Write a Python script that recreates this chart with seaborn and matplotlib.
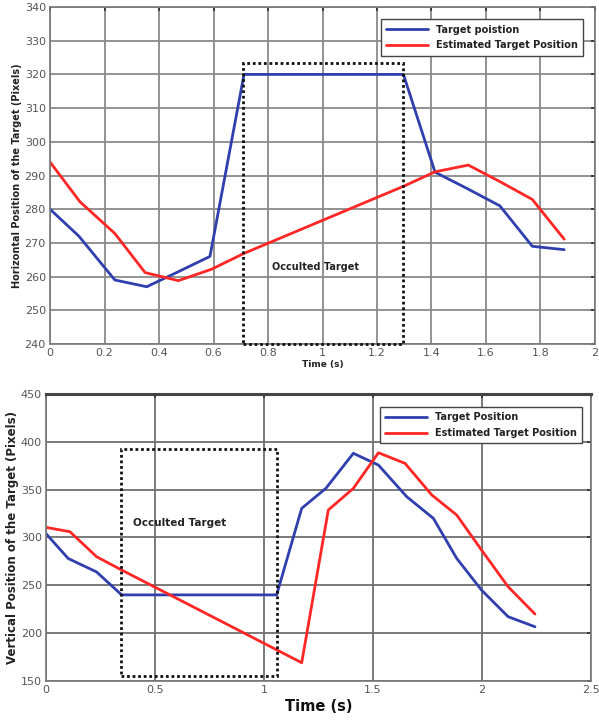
import matplotlib
matplotlib.use("Agg")
import matplotlib.pyplot as plt
import seaborn as sns
import pandas as pd
from matplotlib.patches import Rectangle

# ---------------- data: top panel (horizontal position) ----------------
h_time_true = [0.0, 0.106, 0.238, 0.355, 0.472, 0.587, 0.712, 1.297, 1.413, 1.534, 1.651, 1.770, 1.887]
h_true = [280, 272, 259, 257, 261.5, 266, 320, 320, 291, 286, 281, 269, 268]
h_time_est = [0.0, 0.110, 0.238, 0.349, 0.471, 0.593, 0.712, 1.300, 1.413, 1.535, 1.651, 1.770, 1.887]
h_est = [294, 282.2, 272.8, 261.2, 258.8, 262.2, 266.9, 286.9, 291.1, 293.1, 288.2, 282.9, 271.1]
h_labels = ["Target poistion", "Estimated Target Position"]
h_xticks = [0, 0.2, 0.4, 0.6, 0.8, 1, 1.2, 1.4, 1.6, 1.8, 2]
h_xticklabels = ["0", "0.2", "0.4", "0.6", "0.8", "1", "1.2", "1.4", "1.6", "1.8", "2"]
h_yticks = [240, 250, 260, 270, 280, 290, 300, 310, 320, 330, 340]
h_occ = (0.707, 1.297, 240, 323.5)

# ---------------- data: bottom panel (vertical position) ----------------
v_time_true = [0.0, 0.102, 0.232, 0.347, 1.058, 1.173, 1.284, 1.410, 1.525, 1.655, 1.777, 1.884, 1.998, 2.120, 2.243]
v_true = [304, 278, 264, 240, 240, 330.5, 351.4, 388, 375.7, 342.6, 320, 278.2, 245, 217.2, 206.7]
v_time_est = [0.0, 0.110, 0.232, 0.347, 1.173, 1.295, 1.410, 1.525, 1.647, 1.770, 1.884, 1.998, 2.120, 2.243]
v_est = [310.6, 306, 279.9, 266, 169.1, 328.7, 351.4, 388.6, 377.5, 344.4, 323.5, 286.9, 248.5, 220]
v_labels = ["Target Position", "Estimated Target Position"]
v_xticks = [0, 0.5, 1, 1.5, 2, 2.5]
v_xticklabels = ["0", "0.5", "1", "1.5", "2", "2.5"]
v_yticks = [150, 200, 250, 300, 350, 400, 450]
v_occ = (0.343, 1.061, 155, 392)

BLUE = "#2f3fae"
RED = "#ff2626"

sns.set_theme(style="whitegrid")
plt.rcParams["font.family"] = ["DejaVu Sans"]

fig = plt.figure(figsize=(5.99, 7.22), dpi=100)
ax1 = fig.add_axes([0.0835, 0.5235, 0.9098, 0.4668])
ax2 = fig.add_axes([0.0768, 0.0568, 0.9098, 0.3975])


def make_df(t1, y1, t2, y2, labels):
    return pd.concat([
        pd.DataFrame({"t": t1, "y": y1, "series": labels[0]}),
        pd.DataFrame({"t": t2, "y": y2, "series": labels[1]}),
    ], ignore_index=True)


def style_axes(ax, xticks, xticklabels, yticks, xlim, ylim, gridc, fs):
    ax.set_xlim(*xlim)
    ax.set_ylim(*ylim)
    ax.set_xticks(xticks)
    ax.set_xticklabels(xticklabels)
    ax.set_yticks(yticks)
    ax.grid(True, color=gridc, linewidth=1.3)
    ax.tick_params(direction="in", top=True, right=True, length=3,
                   color="#333333", labelsize=fs, labelcolor="#555555", pad=3)
    for s in ax.spines.values():
        s.set_color("#777777")
        s.set_linewidth(1.2)
        s.set_visible(True)


# ---------------- top panel ----------------
df1 = make_df(h_time_true, h_true, h_time_est, h_est, h_labels)
sns.lineplot(data=df1, x="t", y="y", hue="series", palette=[BLUE, RED],
             sort=False, estimator=None, linewidth=2.0, ax=ax1)
style_axes(ax1, h_xticks, h_xticklabels, h_yticks, (0, 2), (240, 340), "#8a8a8a", 8)
ax1.set_xlabel("Time (s)", fontsize=6.5, fontweight="bold", color="#222222", labelpad=1)
ax1.set_ylabel("Horizontal Position of the Target (Pixels)", fontsize=7,
               fontweight="bold", color="#222222", labelpad=2)
x0, x1, y0, y1 = h_occ
ax1.add_patch(Rectangle((x0, y0), x1 - x0, y1 - y0, fill=False, edgecolor="#111111",
                        linestyle=(0, (1, 1)), linewidth=2.0, zorder=3, clip_on=False))
ax1.text(0.815, 263, "Occulted Target", fontsize=7, fontweight="bold",
         color="#222222", va="center", ha="left")
leg1 = ax1.legend(loc="upper right", bbox_to_anchor=(0.987, 0.978), fontsize=7,
                  frameon=True, fancybox=False, edgecolor="#444444", framealpha=1,
                  handlelength=4.3, borderpad=0.55, labelspacing=0.6)
leg1.get_frame().set_linewidth(1.0)
for t in leg1.get_texts():
    t.set_fontweight("bold")
    t.set_color("#222222")

# ---------------- bottom panel ----------------
df2 = make_df(v_time_true, v_true, v_time_est, v_est, v_labels)
sns.lineplot(data=df2, x="t", y="y", hue="series", palette=[BLUE, RED],
             sort=False, estimator=None, linewidth=2.0, ax=ax2)
style_axes(ax2, v_xticks, v_xticklabels, v_yticks, (0, 2.5), (150, 450), "#707070", 8)
ax2.spines["top"].set_color("#444444")
ax2.spines["top"].set_linewidth(2.2)
ax2.set_xlabel("Time (s)", fontsize=10.5, fontweight="bold", color="#111111", labelpad=3)
ax2.set_ylabel("Vertical Position of the Target (Pixels)", fontsize=8.5,
               fontweight="bold", color="#222222", labelpad=1)
x0, x1, y0, y1 = v_occ
ax2.add_patch(Rectangle((x0, y0), x1 - x0, y1 - y0, fill=False, edgecolor="#111111",
                        linestyle=(0, (1, 1)), linewidth=2.0, zorder=3))
ax2.text(0.40, 315, "Occulted Target", fontsize=7.5, fontweight="bold",
         color="#222222", va="center", ha="left")
leg2 = ax2.legend(loc="upper right", bbox_to_anchor=(0.993, 0.972), fontsize=7,
                  frameon=True, fancybox=False, edgecolor="#444444", framealpha=1,
                  handlelength=4.3, borderpad=0.55, labelspacing=0.6)
leg2.get_frame().set_linewidth(1.0)
for t in leg2.get_texts():
    t.set_fontweight("bold")
    t.set_color("#222222")

fig.savefig("out.png", dpi=100)
